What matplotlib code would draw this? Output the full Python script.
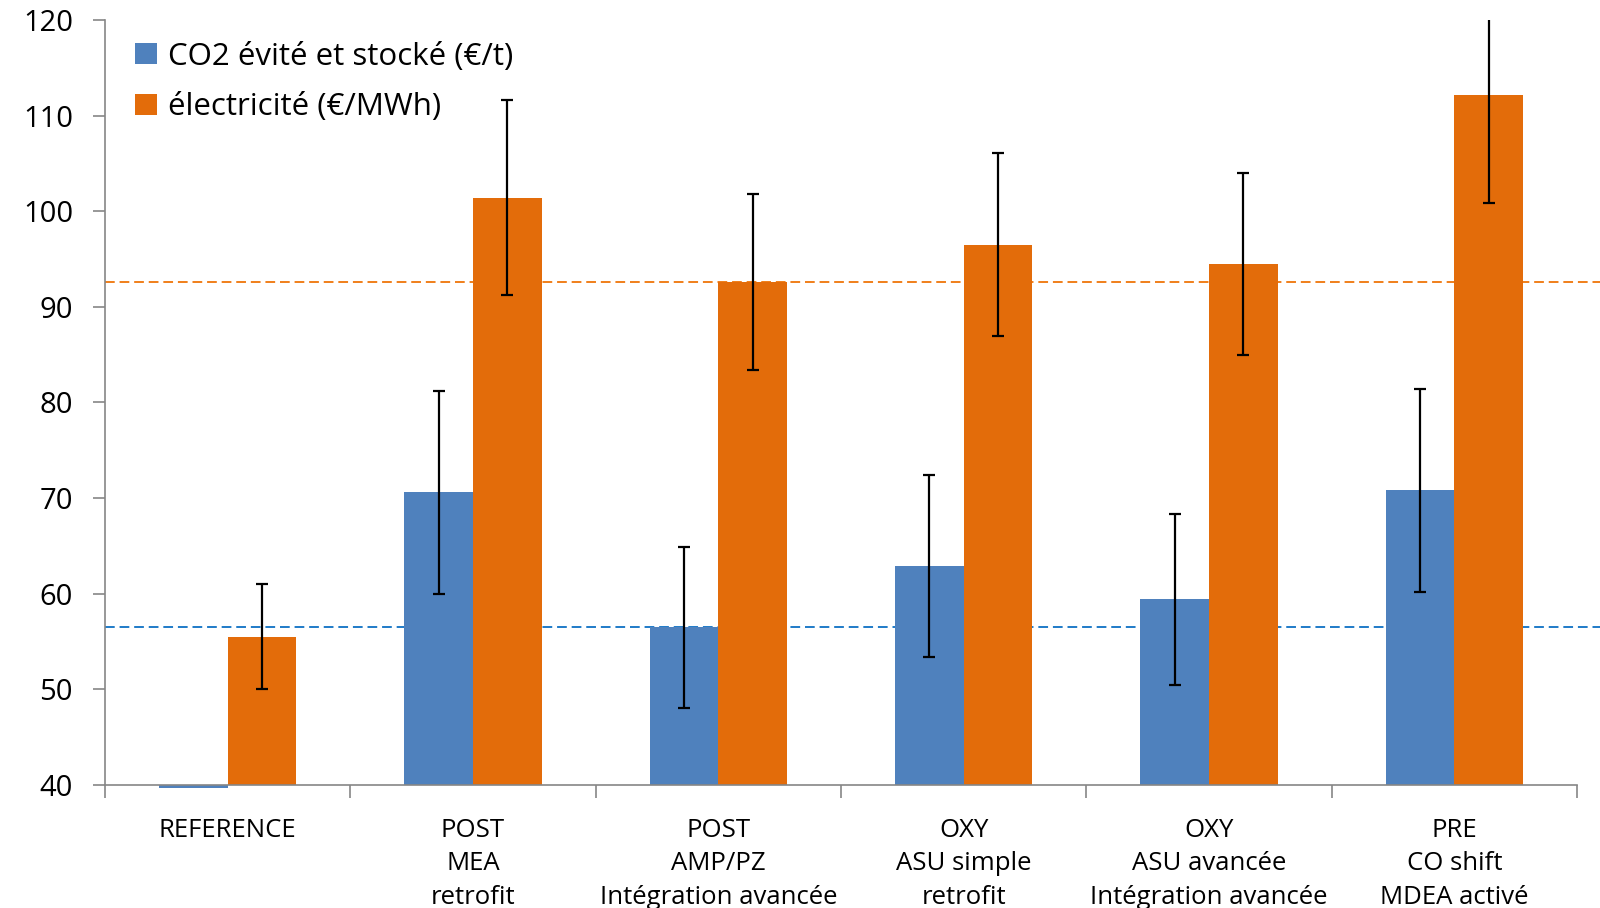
import matplotlib
matplotlib.use("Agg")
import matplotlib.pyplot as plt
import numpy as np

plt.rcParams['font.family'] = ['Open Sans', 'DejaVu Sans']

# data
categories = ['REFERENCE', 'POST\nMEA\nretrofit', 'POST\nAMP/PZ\nIntégration avancée',
              'OXY\nASU simple\nretrofit', 'OXY\nASU avancée\nIntégration avancée',
              'PRE\nCO shift\nMDEA activé']
co2_vals = [39.7, 70.6, 56.5, 62.9, 59.4, 70.8]
co2_err = [0, 10.6, 8.4, 9.5, 8.9, 10.6]
elec_vals = [55.5, 101.4, 92.6, 96.5, 94.5, 112.2]
elec_err = [5.5, 10.2, 9.2, 9.6, 9.5, 11.3]
co2_ref_line = 56.5
elec_ref_line = 92.6

blue = '#4F81BD'
orange = '#E36C0A'

fig = plt.figure(figsize=(16, 9.08), dpi=100)
ax = fig.add_axes([0.0656, 0.1355, 0.92, 0.8425])

x = np.arange(len(categories))
w = 0.28
base = 40

# dashed reference lines, run to the right edge of the figure
ax.axhline(co2_ref_line, xmin=0, xmax=1.03, color='#1F7BC8', ls=(0, (5, 2.5)), lw=1.4, zorder=1, clip_on=False)
ax.axhline(elec_ref_line, xmin=0, xmax=1.03, color='#F07F1A', ls=(0, (5, 2.5)), lw=1.4, zorder=1, clip_on=False)

ax.bar(x - w / 2, np.array(co2_vals) - base, w, bottom=base, color=blue, zorder=2,
       label='CO2 évité et stocké (€/t)', clip_on=False)
ax.bar(x + w / 2, np.array(elec_vals) - base, w, bottom=base, color=orange, zorder=2,
       label='électricité (€/MWh)')

# error bars (no bar on the reference CO2 value)
ax.errorbar(x[1:] - w / 2, co2_vals[1:], yerr=co2_err[1:], fmt='none', ecolor='black',
            elinewidth=1.6, capsize=4, capthick=1.6, zorder=3)
ax.errorbar(x + w / 2, elec_vals, yerr=elec_err, fmt='none', ecolor='black',
            elinewidth=1.6, capsize=4, capthick=1.6, zorder=3)

ax.set_xlim(-0.5, len(categories) - 0.5)
ax.set_ylim(40, 120)
ax.set_yticks(np.arange(40, 121, 10))
ax.tick_params(axis='y', labelsize=21, length=9, color='#868686', width=1.2, pad=14)

ax.set_xticks(x)
ax.set_xticklabels(categories, fontsize=18.5, linespacing=1.43)
ax.set_xticks(np.arange(-0.5, len(categories), 1), minor=True)
ax.tick_params(axis='x', which='major', length=0, pad=24)
ax.tick_params(axis='x', which='minor', length=9, color='#868686', width=1.2)

for side in ['top', 'right']:
    ax.spines[side].set_visible(False)
for side in ['left', 'bottom']:
    ax.spines[side].set_color('#868686')
    ax.spines[side].set_linewidth(1.2)

ax.legend(loc='upper left', bbox_to_anchor=(0.067, 0.985), bbox_transform=fig.transFigure,
          frameon=False, fontsize=22.5, handlelength=0.7, handleheight=0.65,
          handletextpad=0.35, labelspacing=0.65)

fig.savefig('out.png', dpi=100)
